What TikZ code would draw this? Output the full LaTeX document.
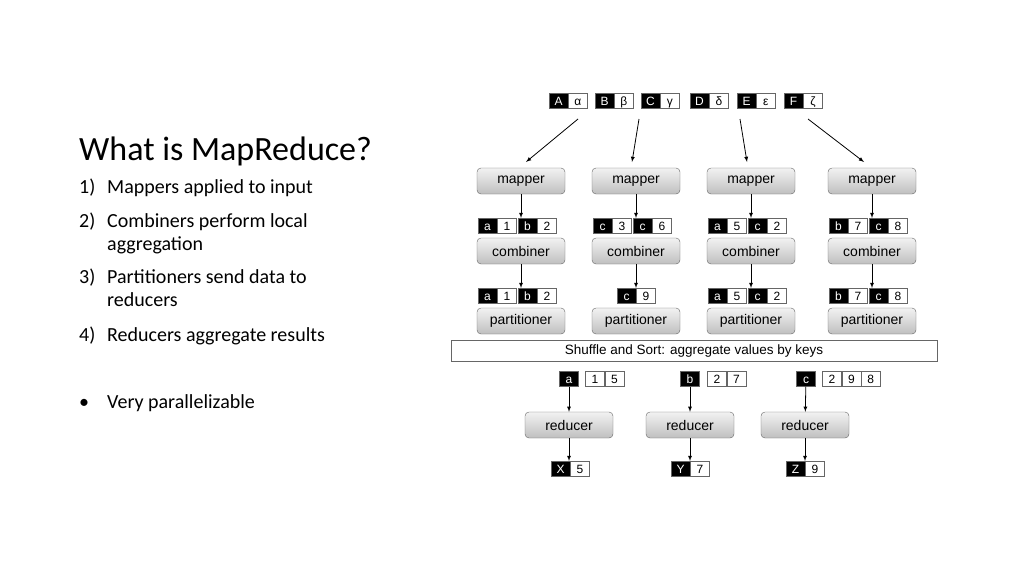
\documentclass[tikz,border=0pt]{standalone}
\usepackage{fontspec}
\setmainfont{Carlito}
\newfontfamily\diafont{Liberation Sans}
\usetikzlibrary{positioning}
\begin{document}
\begin{tikzpicture}[x=1pt,y=-1pt,
  proc/.style={draw=black!60,rounded corners=4pt,top color=gray!10,bottom color=gray!50,minimum width=88pt,minimum height=26pt,inner sep=0pt,font=\diafont\fontsize{14}{14}\selectfont},
  key/.style={draw=black!60,fill=black,text=white,minimum width=19pt,minimum height=15pt,inner sep=0pt,text height=9pt,text depth=1pt,font=\diafont\fontsize{12}{12}\selectfont},
  val/.style={key,fill=white,text=black},
  arr/.style={-latex,thick}]
\useasboundingbox (0,0) rectangle (1024,576);
% Parameters
\def\mapY{181}
\def\combY{251}
\def\partY{321}
\def\redY{425}
% key-value pair: name, centre x, y, key, value
\newcommand{\kv}[5]{\node[key] (#1k) at (#2-9.5,#3){#4}; \node[val,right=0pt of #1k] (#1v){#5};}

% Text
\node[anchor=base west,inner sep=0pt,font=\fontsize{34}{34}\selectfont] (title) at (79,160){What is MapReduce?};
\begin{scope}[every node/.style={anchor=base west,inner sep=0pt,font=\fontsize{20}{20}\selectfont}]
\node (n1) at (79,193){1)}; \node (t1) at (107,193){Mappers applied to input};
\node (n2) at (79,227){2)}; \node (t2) at (107,227){Combiners perform local};
\node (t2b) at (107,250){aggregation};
\node (n3) at (79,283){3)}; \node (t3) at (107,283){Partitioners send data to};
\node (t3b) at (107,306){reducers};
\node (n4) at (79,341){4)}; \node (t4) at (107,341){Reducers aggregate results};
\node (n5) at (79,408){\textbullet}; \node (t5) at (107,408){Very parallelizable};
\end{scope}

% Input
\kv{iA}{568}{101}{A}{α}
\kv{iB}{614}{101}{B}{β}
\kv{iC}{660}{101}{C}{γ}
\kv{iD}{709}{101}{D}{δ}
\kv{iE}{756}{101}{E}{ε}
\kv{iF}{803}{101}{F}{ζ}

% Mappers, combiners, partitioners
\foreach \i/\x in {1/521,2/636,3/751,4/872}{
  \node[proc] (map\i) at (\x,\mapY){mapper};
  \node[proc] (comb\i) at (\x,\combY){combiner};
  \node[proc] (part\i) at (\x,\partY){partitioner};
}
\coordinate (s1) at (578,119); \coordinate (s2) at (639,119);
\coordinate (s3) at (740,119); \coordinate (s4) at (808,119);
\draw[arr] (s1) -- (526,162);
\draw[arr] (s2) -- (632,162);
\draw[arr] (s3) -- (747,162);
\draw[arr] (s4) -- (864,162);

% Mapper output
\kv{m1a}{497}{226}{a}{1} \kv{m1b}{537}{226}{b}{2}
\kv{m2a}{612}{226}{c}{3} \kv{m2b}{652}{226}{c}{6}
\kv{m3a}{727}{226}{a}{5} \kv{m3b}{767}{226}{c}{2}
\kv{m4a}{848}{226}{b}{7} \kv{m4b}{888}{226}{c}{8}
% Combiner output
\kv{c1a}{497}{296}{a}{1} \kv{c1b}{537}{296}{b}{2}
\kv{c2a}{636}{296}{c}{9}
\kv{c3a}{727}{296}{a}{5} \kv{c3b}{767}{296}{c}{2}
\kv{c4a}{848}{296}{b}{7} \kv{c4b}{888}{296}{c}{8}
\foreach \i/\x in {1/521,2/636,3/751,4/872}{
  \coordinate (mo\i) at (\x,218); \coordinate (co\i) at (\x,288);
  \draw[arr] (map\i) -- (mo\i);
  \draw[arr] (comb\i) -- (co\i);
}

% Shuffle and sort
\node[draw=black!60,fill=white,minimum width=486pt,minimum height=21pt,inner sep=0pt,font=\diafont\fontsize{13.5}{13.5}\selectfont] (shuf) at (694,351){Shuffle and Sort: aggregate values by keys};

% Reduce input
\node[key] (ra) at (569,379){a};
\node[val] (ra1) at (595,379){1}; \node[val,right=0pt of ra1] (ra2){5};
\node[key] (rb) at (690,379){b};
\node[val] (rb1) at (717,379){2}; \node[val,right=0pt of rb1] (rb2){7};
\node[key] (rc) at (806,379){c};
\node[val] (rc1) at (832,379){2}; \node[val,right=0pt of rc1] (rc2){9}; \node[val,right=0pt of rc2] (rc3){8};

% Reducers
\node[proc] (red1) at (569,\redY){reducer};
\node[proc] (red2) at (690,\redY){reducer};
\node[proc] (red3) at (805,\redY){reducer};
\draw[arr] (ra) -- (red1);
\draw[arr] (rb) -- (red2);
\draw[arr] (rc) -- (red3);

% Output
\kv{oX}{570}{469}{X}{5}
\kv{oY}{690}{469}{Y}{7}
\kv{oZ}{805}{469}{Z}{9}
\coordinate (ro1) at (569,461); \coordinate (ro2) at (690,461); \coordinate (ro3) at (805,461);
\draw[arr] (red1) -- (ro1);
\draw[arr] (red2) -- (ro2);
\draw[arr] (red3) -- (ro3);
\end{tikzpicture}
\end{document}
